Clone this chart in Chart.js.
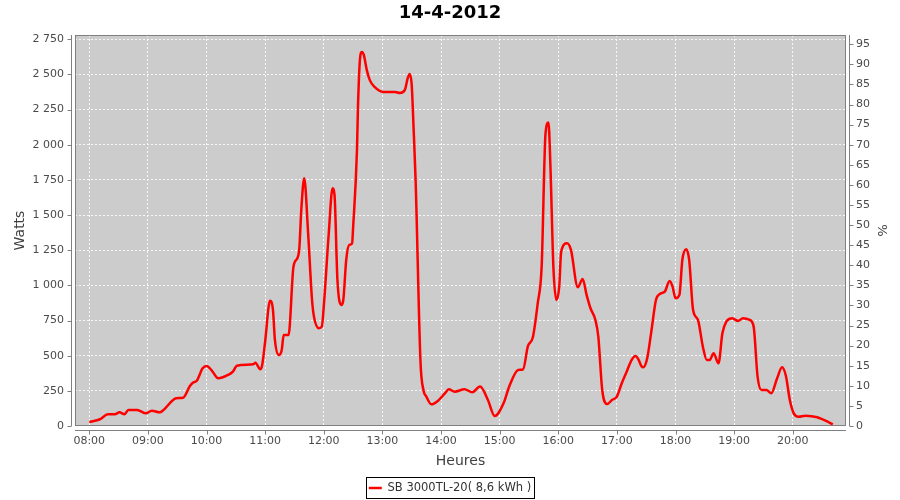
<!DOCTYPE html>
<html>
<head>
<meta charset="utf-8">
<title>14-4-2012</title>
<script src="https://cdn.jsdelivr.net/npm/chart.js@4.4.0/dist/chart.umd.min.js"></script>
<style>
    html, body { margin: 0; padding: 0; background: #ffffff; }
    #wrap { width: 900px; height: 500px; }
</style>
</head>
<body>
<div id="wrap"><canvas id="prodChart" width="900" height="500"></canvas></div>
<script>
// Chart texts
const chartTitle = '14-4-2012';
const seriesName = 'SB 3000TL-20( 8,6 kWh )';

// Axis ticks
const hourLabels = ['08:00', '09:00', '10:00', '11:00', '12:00', '13:00', '14:00',
    '15:00', '16:00', '17:00', '18:00', '19:00', '20:00'];
const wattTicks = [0, 250, 500, 750, 1000, 1250, 1500, 1750, 2000, 2250, 2500, 2750];
const pctTicks = [0, 5, 10, 15, 20, 25, 30, 35, 40, 45, 50, 55, 60, 65, 70, 75, 80, 85, 90, 95];

// Power readings
const times = ['08:00', '08:11', '08:19', '08:26', '08:31', '08:36', '08:40', '08:49', '08:58', '09:04',
    '09:12', '09:16', '09:29', '09:36', '09:43', '09:46', '09:50', '09:56', '10:00', '10:05',
    '10:12', '10:22', '10:27', '10:31', '10:48', '10:50', '10:55', '10:57', '11:00', '11:05',
    '11:08', '11:10', '11:14', '11:17', '11:19', '11:24', '11:25', '11:29', '11:33', '11:35',
    '11:37', '11:40', '11:44', '11:48', '11:50', '11:55', '11:58', '12:00', '12:05', '12:09',
    '12:11', '12:14', '12:18', '12:20', '12:23', '12:26', '12:29', '12:30', '12:34', '12:35',
    '12:37', '12:39', '12:41', '12:44', '12:47', '12:52', '13:01', '13:13', '13:18', '13:23',
    '13:26', '13:28', '13:30', '13:32', '13:34', '13:39', '13:42', '13:45', '13:50', '13:57',
    '14:04', '14:08', '14:14', '14:24', '14:32', '14:40', '14:48', '14:55', '15:04', '15:10',
    '15:19', '15:24', '15:29', '15:34', '15:39', '15:43', '15:47', '15:50', '15:52', '15:55',
    '15:58', '16:01', '16:03', '16:09', '16:13', '16:20', '16:25', '16:29', '16:33', '16:38',
    '16:41', '16:45', '16:50', '16:55', '17:00', '17:05', '17:10', '17:15', '17:19', '17:22',
    '17:25', '17:27', '17:31', '17:35', '17:40', '17:44', '17:49', '17:54', '17:57', '18:00',
    '18:04', '18:07', '18:11', '18:14', '18:18', '18:23', '18:28', '18:32', '18:35', '18:39',
    '18:44', '18:48', '18:52', '18:58', '19:04', '19:09', '19:16', '19:20', '19:24', '19:28',
    '19:33', '19:38', '19:44', '19:49', '19:53', '19:57', '20:01', '20:06', '20:13', '20:25',
    '20:38', '20:41'];
const watts = [28, 48, 83, 83, 97, 83, 114, 114, 90, 109,
    97, 114, 197, 201, 284, 308, 322, 410, 427, 398,
    339, 363, 386, 429, 439, 450, 403, 434, 600, 891,
    825, 612, 505, 541, 647, 647, 695, 1133, 1193, 1264,
    1536, 1762, 1371, 896, 777, 695, 706, 849, 1358, 1690,
    1643, 1038, 861, 896, 1181, 1287, 1299, 1406, 1963, 2262,
    2603, 2660, 2639, 2532, 2461, 2411, 2375, 2375, 2368, 2390,
    2475, 2503, 2425, 2105, 1750, 457, 256, 209, 154, 180,
    232, 261, 244, 261, 240, 280, 185, 71, 161, 284,
    398, 403, 569, 631, 873, 1133, 2082, 2157, 1844, 1133,
    896, 991, 1240, 1299, 1252, 986, 1046, 932, 837, 754,
    635, 256, 156, 185, 209, 304, 386, 469, 498, 474,
    427, 417, 481, 659, 896, 939, 955, 1031, 991, 908,
    932, 1181, 1257, 1181, 825, 754, 564, 469, 469, 517,
    446, 659, 742, 766, 747, 766, 754, 706, 351, 256,
    256, 232, 339, 417, 356, 185, 90, 66, 73, 62,
    23, 12];

const FONT = 'DejaVu Sans';
const TICK_COLOR = '#4a4a4a';

function toMinutes(label) {
    const parts = label.split(':');
    return parseInt(parts[0], 10) * 60 + parseInt(parts[1], 10);
}

function fmtTime(mins) {
    const h = Math.floor(mins / 60);
    const m = Math.round(mins % 60);
    return String(h).padStart(2, '0') + ':' + String(m).padStart(2, '0');
}

// "2 750" style thousands separator
function fmtWatts(v) {
    if (v < 1000) return String(v);
    return Math.floor(v / 1000) + ' ' + String(v % 1000).padStart(3, '0');
}

const points = times.map((t, i) => ({ x: toMinutes(t), y: watts[i] }));

// grey plot background, outline and JFreeChart-like offset axis lines
const plotFrame = {
    id: 'plotFrame',
    beforeDraw(chart) {
        const { ctx, chartArea: a } = chart;
        ctx.save();
        ctx.fillStyle = '#cccccc';
        ctx.fillRect(a.left, a.top, a.right - a.left, a.bottom - a.top);
        ctx.restore();
    },
    beforeDatasetsDraw(chart) {
        const { ctx, chartArea: a, scales } = chart;
        ctx.save();
        ctx.strokeStyle = '#808080';
        ctx.lineWidth = 1;
        ctx.strokeRect(a.left + 0.5, a.top + 0.5, a.right - a.left - 1, a.bottom - a.top - 1);

        ctx.beginPath();
        // x axis
        const ay = a.bottom + 4.5;
        ctx.moveTo(a.left, ay);
        ctx.lineTo(a.right, ay);
        scales.x.ticks.forEach(t => {
            const px = Math.round(scales.x.getPixelForValue(t.value)) + 0.5;
            ctx.moveTo(px, ay);
            ctx.lineTo(px, ay + 4);
        });
        // left axis
        const lx = a.left - 3.5;
        ctx.moveTo(lx, a.top);
        ctx.lineTo(lx, a.bottom);
        scales.y.ticks.forEach(t => {
            const py = Math.round(scales.y.getPixelForValue(t.value)) + 0.5;
            ctx.moveTo(lx, py);
            ctx.lineTo(lx - 4, py);
        });
        // right axis
        const rx = a.right + 3.5;
        ctx.moveTo(rx, a.top);
        ctx.lineTo(rx, a.bottom);
        scales.y1.ticks.forEach(t => {
            const py = Math.round(scales.y1.getPixelForValue(t.value)) + 0.5;
            ctx.moveTo(rx, py);
            ctx.lineTo(rx + 4, py);
        });
        ctx.stroke();
        ctx.restore();
    }
};

// fixed legend height + black frame round the legend item
const legendFrame = {
    id: 'legendFrame',
    beforeLayout(chart) {
        const legend = chart.legend;
        if (legend && !legend._patched) {
            const origFit = legend.fit;
            legend.fit = function () {
                origFit.call(this);
                this.height = 22;
            };
            legend._patched = true;
        }
    },
    afterDraw(chart) {
        const legend = chart.legend;
        if (!legend || !legend.legendHitBoxes.length) return;
        const hb = legend.legendHitBoxes[0];
        const { ctx } = chart;
        ctx.save();
        ctx.strokeStyle = '#000000';
        ctx.lineWidth = 1;
        ctx.strokeRect(Math.round(hb.left) - 2.5, Math.round(legend.top) - 0.5, Math.round(hb.width) + 6, 21);
        ctx.restore();
    }
};

const ctx = document.getElementById('prodChart').getContext('2d');
const chart = new Chart(ctx, {
    type: 'line',
    data: {
        datasets: [{
            label: seriesName,
            data: points,
            borderColor: '#ff0000',
            backgroundColor: '#ff0000',
            borderWidth: 2.5,
            pointRadius: 0,
            fill: false,
            cubicInterpolationMode: 'monotone',
            yAxisID: 'y'
        }]
    },
    options: {
        responsive: false,
        animation: false,
        devicePixelRatio: 1,
        layout: { padding: 0 },
        plugins: {
            title: {
                display: true,
                text: chartTitle,
                color: '#000000',
                font: { family: FONT, size: 18, weight: 'bold' },
                padding: { top: 3, bottom: 10.4 }
            },
            legend: {
                display: true,
                position: 'bottom',
                labels: {
                    usePointStyle: true,
                    pointStyle: 'line',
                    pointStyleWidth: 13,
                    padding: 4.25,
                    color: '#333333',
                    font: { family: FONT, size: 11.5 }
                }
            },
            tooltip: { enabled: false }
        },
        scales: {
            x: {
                type: 'linear',
                min: 465.4,
                max: 1254.5,
                afterBuildTicks: scale => {
                    scale.ticks = hourLabels.map(l => ({ value: toMinutes(l) }));
                },
                afterFit: scale => { scale.height = 52; },
                ticks: {
                    autoSkip: false,
                    maxRotation: 0,
                    padding: 9,
                    color: TICK_COLOR,
                    font: { family: FONT, size: 11 },
                    callback: value => fmtTime(value)
                },
                grid: {
                    color: 'rgba(255, 255, 255, 0.85)',
                    lineWidth: 1,
                    drawTicks: false
                },
                border: { display: false, dash: [2, 2] },
                title: {
                    display: true,
                    text: 'Heures',
                    color: '#404040',
                    font: { family: FONT, size: 14 },
                    padding: { top: 0, bottom: 8.6 }
                }
            },
            y: {
                type: 'linear',
                position: 'left',
                min: 0,
                max: 2780,
                afterBuildTicks: scale => {
                    scale.ticks = wattTicks.map(v => ({ value: v }));
                },
                afterFit: scale => { scale.width = 75; },
                ticks: {
                    padding: 11,
                    color: TICK_COLOR,
                    font: { family: FONT, size: 11 },
                    callback: value => fmtWatts(value)
                },
                grid: {
                    color: 'rgba(255, 255, 255, 0.85)',
                    lineWidth: 1,
                    drawTicks: false
                },
                border: { display: false, dash: [2, 2] },
                title: {
                    display: true,
                    text: 'Watts',
                    color: '#404040',
                    font: { family: FONT, size: 14 },
                    padding: { top: 11.6, bottom: 0 }
                }
            },
            y1: {
                type: 'linear',
                position: 'right',
                min: 0,
                max: 97.3,
                afterBuildTicks: scale => {
                    scale.ticks = pctTicks.map(v => ({ value: v }));
                },
                afterFit: scale => { scale.width = 54; },
                ticks: {
                    padding: 10,
                    color: TICK_COLOR,
                    font: { family: FONT, size: 11 }
                },
                grid: { display: false, drawTicks: false },
                border: { display: false },
                title: {
                    display: true,
                    text: '%',
                    color: '#404040',
                    font: { family: FONT, size: 13 },
                    padding: { top: 10.6, bottom: 0 }
                }
            }
        }
    },
    plugins: [plotFrame, legendFrame]
});
</script>
</body>
</html>
